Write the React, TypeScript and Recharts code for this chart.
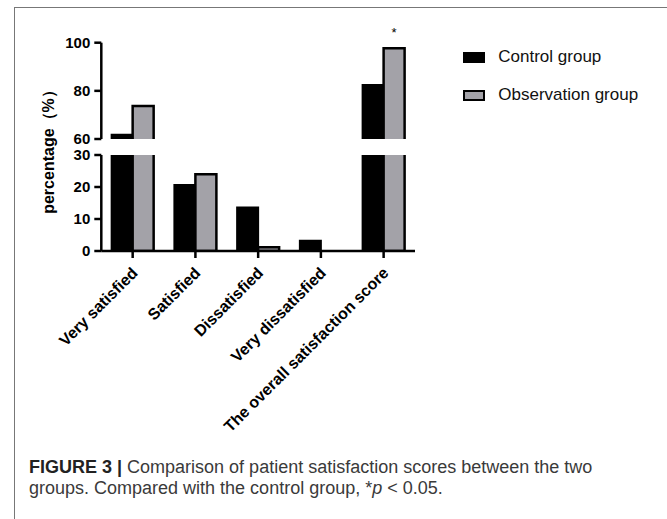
import React from "react";
import { BarChart, Bar, XAxis, YAxis, Legend, LabelList } from "recharts";

const categories = [
  "Very satisfied",
  "Satisfied",
  "Dissatisfied",
  "Very dissatisfied",
  "The overall satisfaction score",
];
const controlGroup = [61.8, 20.6, 13.6, 3.2, 82.4];
const observationGroup = [73.7, 24.0, 1.2, 0, 97.7];
const significance = ["", "", "", "", "*"];
const upperTicks = [60, 80, 100];
const lowerTicks = [0, 10, 20, 30];

const data = categories.map((name, i) => ({
  name,
  control: controlGroup[i],
  observation: observationGroup[i],
  mark: significance[i],
}));

const FONT = "'Liberation Sans', Arial, Helvetica, sans-serif";
const GRAY = "#a3a2a8";
const axisStyle = { stroke: "#000", strokeWidth: 2.5 };
const tickStyle = { fill: "#000", fontSize: 15, fontWeight: 700, fontFamily: FONT };
const margins = { left: 41.3, right: 252 };

function XTick({ x, y, payload }: any) {
  const ax = x + 6;
  const ay = y + 14;
  return (
    <text
      x={ax}
      y={ay}
      transform={`rotate(-45 ${ax} ${ay})`}
      textAnchor="end"
      fill="#000"
      fontSize={16}
      fontWeight={700}
      fontFamily={FONT}
    >
      {payload.value}
    </text>
  );
}

function renderMark(props: any) {
  const { x, y, width, value } = props;
  if (!value) return null;
  return (
    <text x={x + width / 2} y={y - 11} textAnchor="middle" fontSize={13} fontFamily={FONT} fill="#000">
      {value}
    </text>
  );
}

function renderLegend({ payload }: any) {
  return (
    <div>
      {(payload || []).map((entry: any, i: number) => (
        <div
          key={i}
          style={{ display: "flex", alignItems: "center", height: 19, marginBottom: 19, fontFamily: FONT, fontSize: 17, color: "#111", whiteSpace: "nowrap" }}
        >
          <span
            style={{
              display: "inline-block",
              width: 22,
              height: 11,
              boxSizing: "border-box",
              background: entry.color,
              border: "2px solid #000",
              marginRight: 13.6,
            }}
          />
          {entry.value}
        </div>
      ))}
    </div>
  );
}

export default function App() {
  return (
    <div style={{ position: "fixed", left: 0, top: 0, width: 667, height: 519, background: "#fff", overflow: "hidden" }}>
      <div style={{ position: "absolute", left: 14, top: 7, width: 700, height: 600, borderLeft: "1px solid #777", borderTop: "1px solid #777" }} />

      <div style={{ position: "absolute", left: 0, top: 0 }}>
        <BarChart
          width={667}
          height={150}
          data={data}
          margin={{ top: 42.7, bottom: 11, ...margins }}
          barCategoryGap="16.5%"
          barGap={0}
        >
          <XAxis dataKey="name" hide />
          <YAxis
            domain={[60, 100]}
            ticks={upperTicks}
            allowDataOverflow
            width={60}
            axisLine={axisStyle}
            tickLine={axisStyle}
            tickSize={7}
            tickMargin={4}
            tick={tickStyle}
            interval={0}
          />
          <Bar dataKey={(d: any) => [0, d.control]} name="Control group" fill="#000" stroke="#000" strokeWidth={2} isAnimationActive={false} />
          <Bar dataKey={(d: any) => [0, d.observation]} name="Observation group" fill={GRAY} stroke="#000" strokeWidth={2.5} isAnimationActive={false}>
            <LabelList dataKey="mark" content={renderMark} />
          </Bar>
          <Legend
            layout="vertical"
            align="center"
            verticalAlign="middle"
            content={renderLegend}
            wrapperStyle={{ position: "absolute", left: 462.7, top: 47.5, width: 200 }}
          />
        </BarChart>
      </div>

      <div style={{ position: "absolute", left: 0, top: 140 }}>
        <BarChart
          width={667}
          height={320}
          data={data}
          margin={{ top: 15, bottom: 9, ...margins }}
          barCategoryGap="16.5%"
          barGap={0}
        >
          <XAxis
            dataKey="name"
            interval={0}
            height={200}
            axisLine={axisStyle}
            tickLine={axisStyle}
            tickSize={7}
            tick={<XTick />}
          />
          <YAxis
            domain={[0, 30]}
            ticks={lowerTicks}
            allowDataOverflow
            width={60}
            axisLine={axisStyle}
            tickLine={axisStyle}
            tickSize={7}
            tickMargin={4}
            tick={tickStyle}
            interval={0}
          />
          <Bar dataKey="control" name="Control group" fill="#000" stroke="#000" strokeWidth={2} isAnimationActive={false} />
          <Bar dataKey="observation" name="Observation group" fill={GRAY} stroke="#000" strokeWidth={2.5} isAnimationActive={false} />
        </BarChart>
      </div>

      <svg style={{ position: "absolute", left: 0, top: 0 }} width={120} height={300}>
        <text
          x={54}
          y={148}
          transform="rotate(-90 54 148)"
          textAnchor="middle"
          fontSize={16}
          fontWeight={700}
          fontFamily={FONT}
          fill="#000"
        >
          percentage（%）
        </text>
      </svg>

      <div
        style={{
          position: "absolute",
          left: 29,
          top: 457,
          fontFamily: FONT,
          fontSize: 18,
          lineHeight: "21px",
          color: "#3a3a3a",
          whiteSpace: "nowrap",
        }}
      >
        <b style={{ color: "#222" }}>FIGURE 3 |</b> Comparison of patient satisfaction scores between the two
        <br />
        groups. Compared with the control group, *<i>p</i> &lt; 0.05.
      </div>
    </div>
  );
}
